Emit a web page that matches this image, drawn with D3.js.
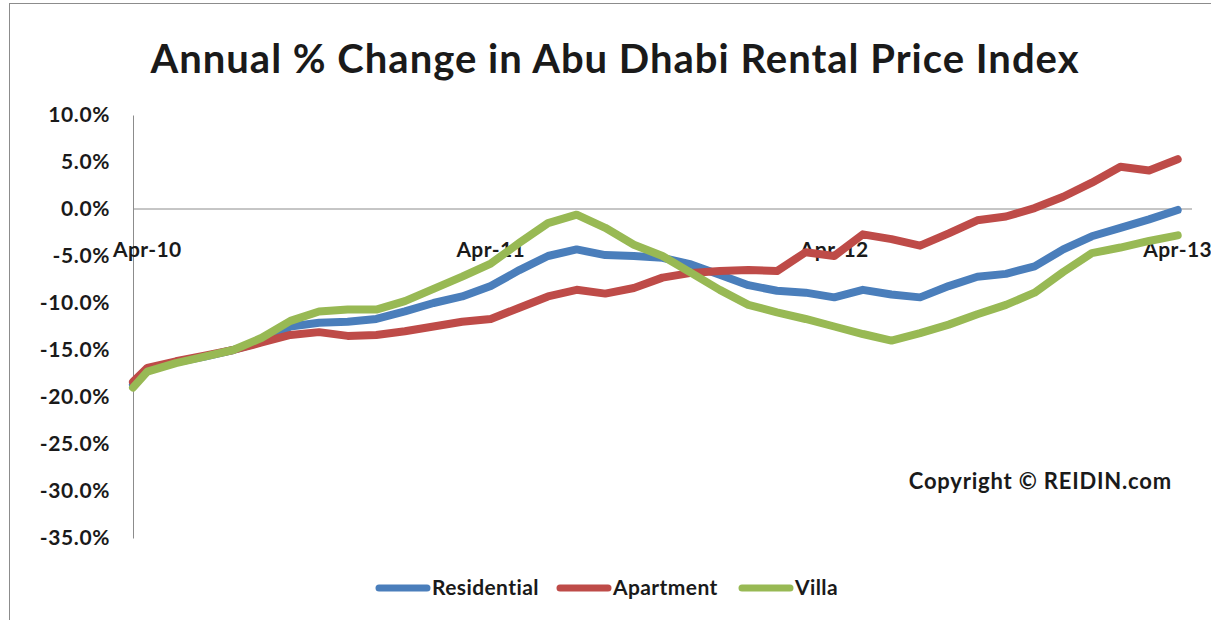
<!DOCTYPE html>
<html>
<head>
<meta charset="utf-8">
<script src="https://cdn.jsdelivr.net/npm/d3@7"></script>
<style>
  body { margin: 0; background: #fff; }
  text { font-family: Lato, "Open Sans", sans-serif; fill: #1a1a1a; }
</style>
</head>
<body>
<svg id="chart" width="1211" height="620"></svg>
<script>
// monthly annual % change; first value sits half a month before Apr-10
var seriesNames = ["Residential", "Apartment", "Villa"]
var seriesColors = ["#4a7ebb", "#be4b48", "#98b954"]

var residential = [-18.7, -17.0, -16.3, -15.7, -15.0, -14.1, -12.5, -12.1, -12.0, -11.7,
  -10.9, -10.0, -9.3, -8.2, -6.5, -5.0, -4.3, -4.9, -5.0, -5.2,
  -5.9, -7.0, -8.1, -8.7, -8.9, -9.4, -8.6, -9.1, -9.4, -8.2,
  -7.2, -6.9, -6.1, -4.3, -2.9, -2.0, -1.1, -0.1]
var apartment = [-18.4, -16.9, -16.2, -15.6, -15.0, -14.2, -13.4, -13.1, -13.5, -13.4,
  -13.0, -12.5, -12.0, -11.7, -10.5, -9.3, -8.6, -9.0, -8.4, -7.3,
  -6.8, -6.6, -6.5, -6.6, -4.6, -5.0, -2.7, -3.2, -3.9, -2.6,
  -1.2, -0.8, 0.1, 1.3, 2.8, 4.5, 4.1, 5.3]
var villa = [-19.0, -17.3, -16.4, -15.7, -15.0, -13.7, -11.9, -10.9, -10.7, -10.7,
  -9.8, -8.5, -7.2, -5.8, -3.6, -1.5, -0.6, -2.0, -3.8, -5.0,
  -6.8, -8.6, -10.2, -11.0, -11.7, -12.5, -13.3, -14.0, -13.2, -12.3,
  -11.2, -10.2, -8.9, -6.7, -4.7, -4.1, -3.4, -2.8]

var xLabels = ["Apr-10", "Apr-11", "Apr-12", "Apr-13"]
var xLabelMonths = [0, 12, 24, 36]
var yTicks = [10, 5, 0, -5, -10, -15, -20, -25, -30, -35]

function drawChart() {
  var svg = d3.select("#chart")
  var width = 1211, height = 620
  var plotLeft = 133, plotRight = 1192, plotTop = 115, plotBottom = 538

  // chart area border
  svg.append("rect")
    .attr("x", 9.5).attr("y", 3.5)
    .attr("width", width + 10).attr("height", height + 10)
    .attr("fill", "none").attr("stroke", "#8c8c8c").attr("stroke-width", 1)

  var x = d3.scaleLinear().domain([-0.5, 36.5]).range([plotLeft, plotRight])
  var y = d3.scaleLinear().domain([-35, 10]).range([plotBottom, plotTop])

  svg.append("text")
    .attr("x", 615).attr("y", 73)
    .attr("text-anchor", "middle")
    .style("font-size", "40px").style("font-weight", "bold")
    .style("letter-spacing", "1px")
    .text("Annual % Change in Abu Dhabi Rental Price Index")

  // y axis, plain hyphen for the minus sign like the original
  var yAxis = svg.append("g")
    .attr("transform", "translate(" + plotLeft + ",0)")
    .call(d3.axisLeft(y).tickValues(yTicks).tickSize(0).tickPadding(23)
      .tickFormat(function(d) { return (d < 0 ? "-" : "") + Math.abs(d).toFixed(1) + "%" }))
  yAxis.select(".domain").attr("stroke", "#8c8c8c")
  yAxis.selectAll("text")
    .style("font-size", "21px").style("font-weight", "bold").style("font-family", "Lato, sans-serif")
    .style("letter-spacing", "0.6px")
    .attr("fill", "#1a1a1a")

  // horizontal axis at 0
  svg.append("line")
    .attr("x1", plotLeft).attr("x2", plotRight)
    .attr("y1", y(0)).attr("y2", y(0))
    .attr("stroke", "#8c8c8c")

  svg.selectAll(".xlab")
    .data(xLabels)
    .enter().append("text")
    .attr("class", "xlab")
    .attr("x", function(d, i) { return x(xLabelMonths[i]) })
    .attr("y", y(0) + 48)
    .attr("text-anchor", "middle")
    .style("font-size", "21px").style("font-weight", "bold")
    .style("letter-spacing", "0.4px")
    .text(function(d) { return d })

  var allSeries = [residential, apartment, villa]

  var line = d3.line()
    .x(function(d, i) { return x(i === 0 ? -0.5 : i - 1) })
    .y(function(d) { return y(d) })

  svg.selectAll(".series")
    .data(allSeries)
    .enter().append("path")
    .attr("class", "series")
    .attr("d", line)
    .attr("fill", "none")
    .attr("stroke", function(d, i) { return seriesColors[i] })
    .attr("stroke-width", 8)
    .attr("stroke-linejoin", "round")
    .attr("stroke-linecap", "round")

  svg.append("text")
    .attr("x", 1172).attr("y", 489)
    .attr("text-anchor", "end")
    .style("font-size", "22px").style("font-weight", "bold")
    .style("letter-spacing", "0.8px")
    .text("Copyright \u00a9 REIDIN.com")

  // legend
  var legendX = [377, 558, 740]
  var legend = svg.selectAll(".legend")
    .data(seriesNames)
    .enter().append("g")
    .attr("class", "legend")
    .attr("transform", function(d, i) { return "translate(" + legendX[i] + ",588)" })
  legend.append("line")
    .attr("x1", 2).attr("x2", 50)
    .attr("stroke", function(d, i) { return seriesColors[i] })
    .attr("stroke-width", 7).attr("stroke-linecap", "round")
  legend.append("text")
    .attr("x", 55).attr("y", 7)
    .style("font-size", "21px").style("font-weight", "bold")
    .style("letter-spacing", "0.4px")
    .text(function(d) { return d })
}

drawChart()
</script>
</body>
</html>
